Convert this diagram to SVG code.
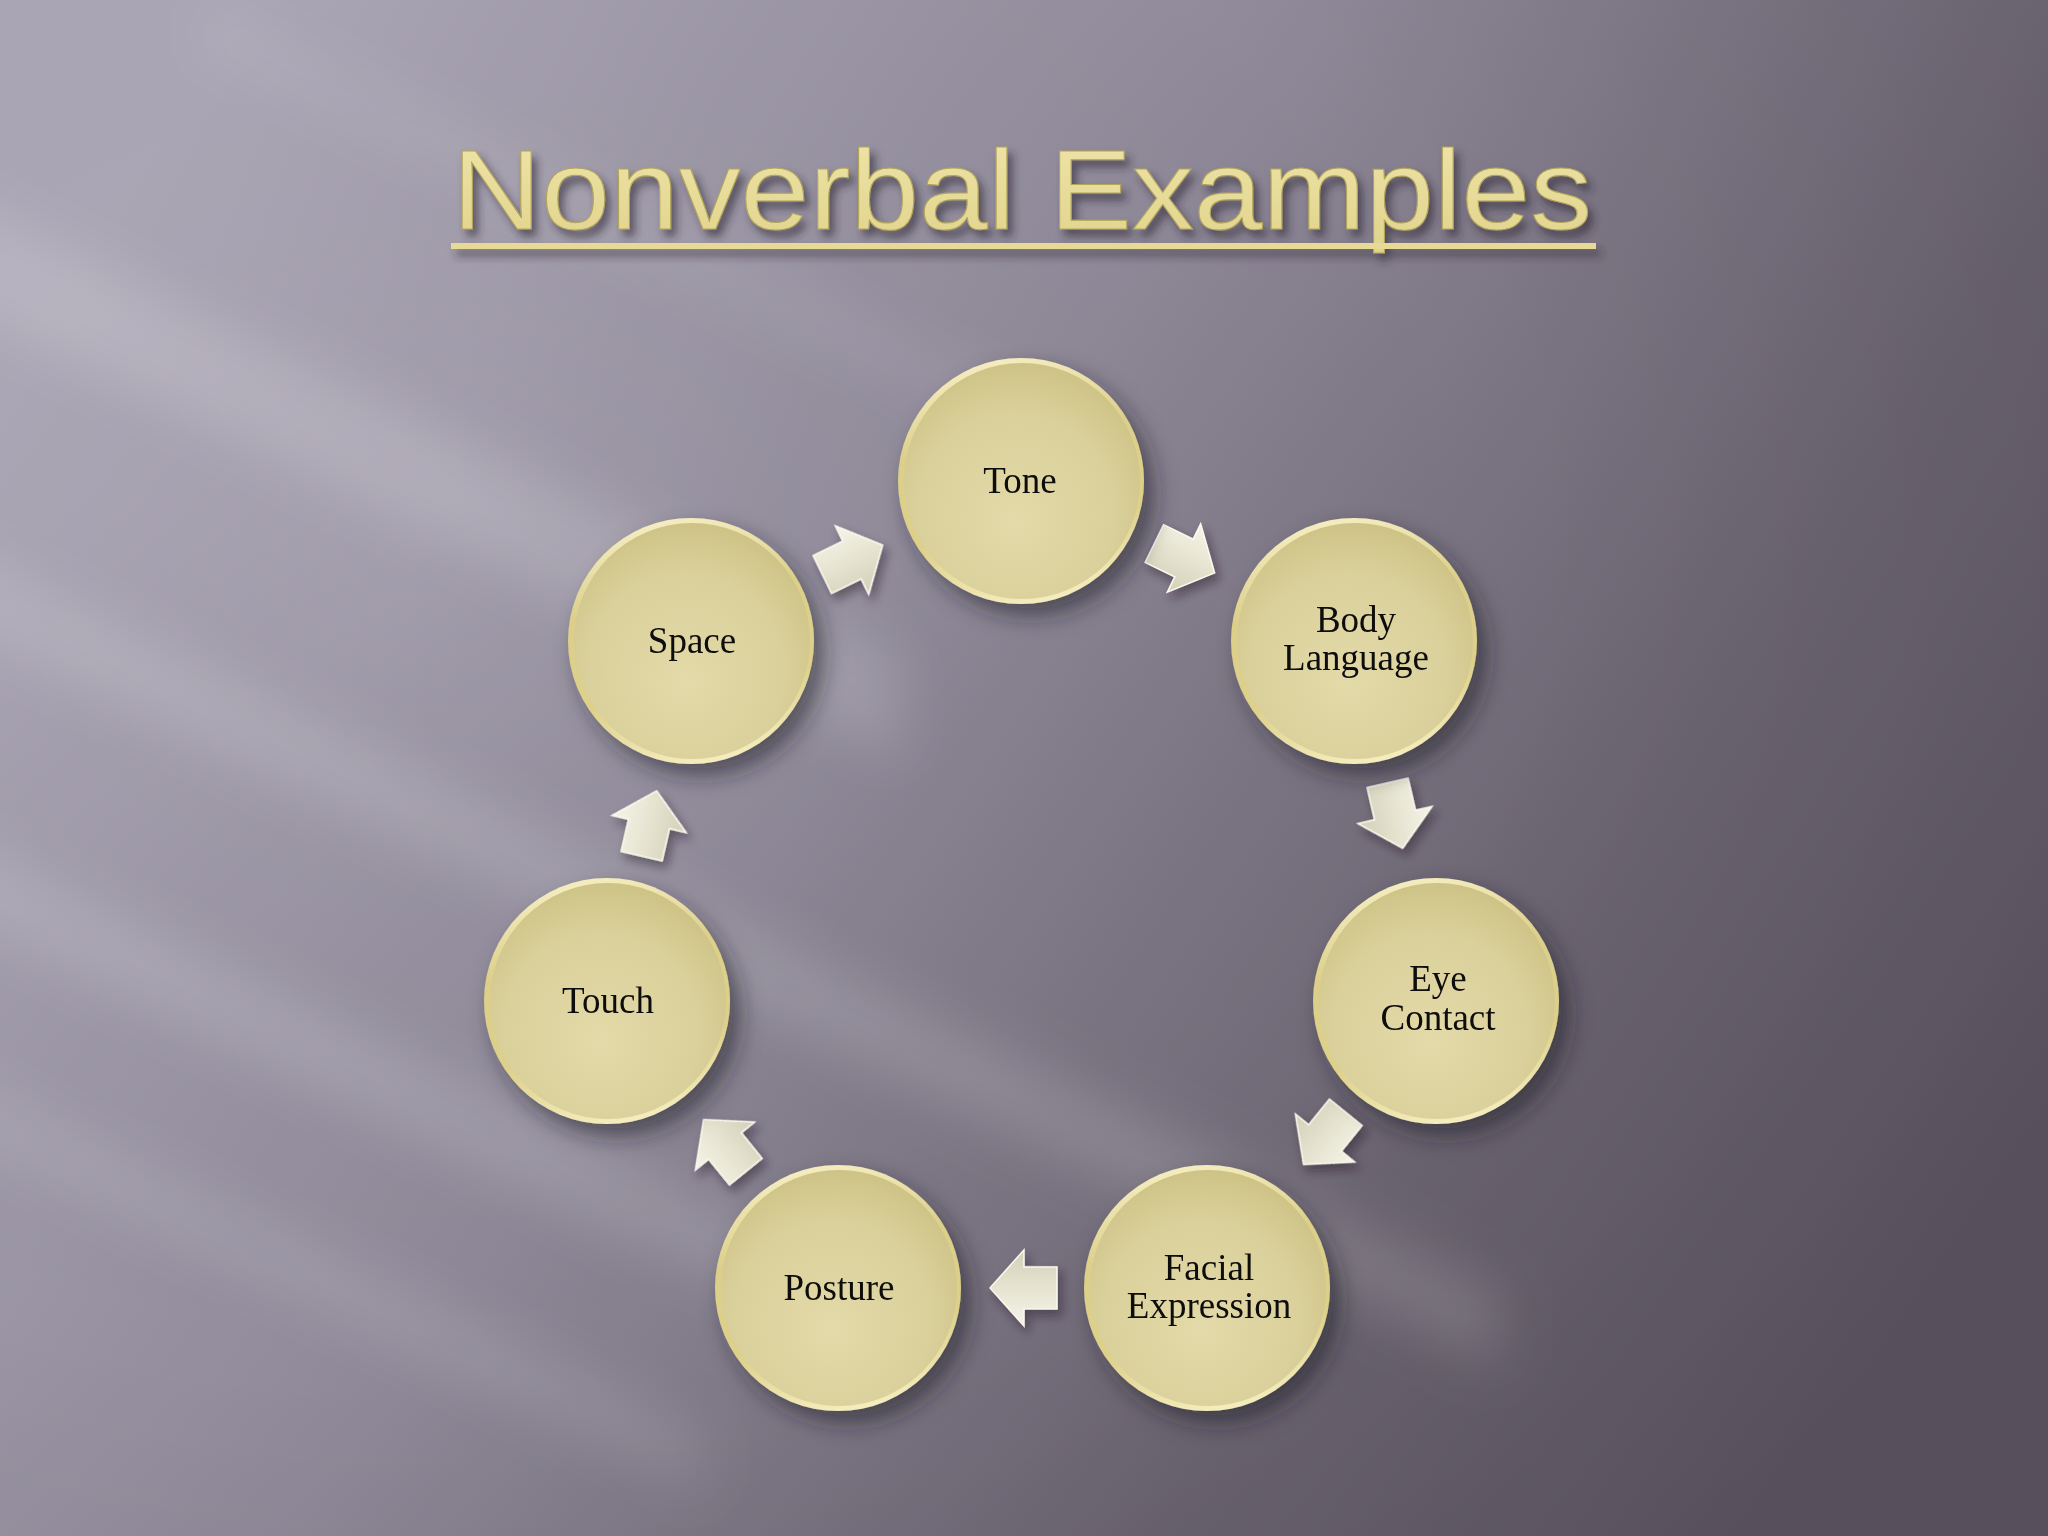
<svg xmlns="http://www.w3.org/2000/svg" width="2048" height="1536" viewBox="0 0 2048 1536">
  <defs>
    <linearGradient id="bg" x1="0" y1="0.25" x2="1" y2="0.75">
      <stop offset="0" stop-color="#aca7b6"/>
      <stop offset="0.4" stop-color="#8f8999"/>
      <stop offset="0.75" stop-color="#6a6370"/>
      <stop offset="1" stop-color="#5c5461"/>
    </linearGradient>
    <radialGradient id="vign" cx="0.2" cy="0.35" r="0.9">
      <stop offset="0" stop-color="#ffffff" stop-opacity="0.06"/>
      <stop offset="0.6" stop-color="#000000" stop-opacity="0"/>
      <stop offset="1" stop-color="#000000" stop-opacity="0.06"/>
    </radialGradient>
    <filter id="blurBig" x="-50%" y="-50%" width="200%" height="200%">
      <feGaussianBlur stdDeviation="26"/>
    </filter>
    <filter id="shadow" x="-30%" y="-30%" width="170%" height="170%">
      <feDropShadow dx="10" dy="12" stdDeviation="11" flood-color="#231d28" flood-opacity="0.55"/>
    </filter>
    <filter id="arrowShadow" x="-40%" y="-40%" width="180%" height="180%">
      <feDropShadow dx="4" dy="6" stdDeviation="5" flood-color="#231d28" flood-opacity="0.45"/>
    </filter>
    <filter id="titleShadow" x="-10%" y="-30%" width="120%" height="170%">
      <feDropShadow dx="5" dy="7" stdDeviation="4" flood-color="#2e2834" flood-opacity="0.6"/>
    </filter>
    <linearGradient id="rim" x1="0.3" y1="0" x2="0.5" y2="1">
      <stop offset="0" stop-color="#f6efc4"/>
      <stop offset="0.35" stop-color="#dccf8a"/>
      <stop offset="0.7" stop-color="#ddd08a"/>
      <stop offset="1" stop-color="#f4ecbc"/>
    </linearGradient>
    <radialGradient id="face" cx="0.47" cy="0.6" r="0.7" fx="0.47" fy="0.68">
      <stop offset="0" stop-color="#e3daa9"/>
      <stop offset="0.6" stop-color="#dad09b"/>
      <stop offset="1" stop-color="#c9bd7c"/>
    </radialGradient>
    <linearGradient id="arrowFill" x1="0" y1="0" x2="0" y2="1">
      <stop offset="0" stop-color="#f5f4e8"/>
      <stop offset="0.5" stop-color="#e6e4d0"/>
      <stop offset="1" stop-color="#d2d0b8"/>
    </linearGradient>
    <linearGradient id="titleFill" x1="0" y1="0" x2="0" y2="1">
      <stop offset="0" stop-color="#efe5a8"/>
      <stop offset="1" stop-color="#e0d38c"/>
    </linearGradient>
    <path id="arrowShape" d="M -33,-21 L 0,-21 L 0,-38 L 34,0 L 0,38 L 0,21 L -33,21 Z"/>
  </defs>
  <style>
    .label { font-family: "Liberation Serif", "Times New Roman", serif; font-size: 37px; fill: #0d0b08; text-anchor: middle; }
    .title { font-family: "Liberation Sans", Arial, sans-serif; font-size: 114px; fill: url(#titleFill); stroke: #b3a55a; stroke-width: 1; }
    .arrow { fill: url(#arrowFill); stroke: #fbfaf0; stroke-width: 1.5; stroke-linejoin: miter; }
  </style>

  <!-- background -->
  <rect x="0" y="0" width="2048" height="1536" fill="url(#bg)"/>
  <g filter="url(#blurBig)" fill="#ffffff">
    <polygon points="-200,120 900,650 900,760 -200,230" opacity="0.15"/>
    <polygon points="-200,470 1500,1290 1500,1370 -200,550" opacity="0.14"/>
    <polygon points="-200,760 900,1290 900,1370 -200,840" opacity="0.14"/>
    <polygon points="-200,1000 700,1430 700,1490 -200,1060" opacity="0.11"/>
    <polygon points="200,0 1100,430 1100,480 200,50" opacity="0.08"/>
  </g>
  <rect x="0" y="0" width="2048" height="1536" fill="url(#vign)"/>

  <!-- title -->
  <g id="title" filter="url(#titleShadow)">
    <text class="title" x="452" y="229" textLength="1140" lengthAdjust="spacingAndGlyphs">Nonverbal Examples</text>
    <rect x="451" y="243" width="1145" height="6" fill="#e6da95"/>
  </g>

  <!-- connectors -->
  <g id="connectors" filter="url(#arrowShadow)">
    <use href="#arrowShape" class="arrow" transform="translate(1184,558) rotate(26)"/>
    <use href="#arrowShape" class="arrow" transform="translate(1395,815) rotate(77)"/>
    <use href="#arrowShape" class="arrow" transform="translate(1325,1138) rotate(129)"/>
    <use href="#arrowShape" class="arrow" transform="translate(1024,1288) rotate(180)"/>
    <use href="#arrowShape" class="arrow" transform="translate(725,1146) rotate(231)"/>
    <use href="#arrowShape" class="arrow" transform="translate(649,824) rotate(283)"/>
    <use href="#arrowShape" class="arrow" transform="translate(852,560) rotate(334)"/>
  </g>

  <!-- nodes -->
  <g id="node-tone" filter="url(#shadow)">
    <circle cx="1021" cy="481" r="123" fill="url(#rim)"/>
    <circle cx="1022" cy="481" r="118" fill="url(#face)"/>
    <text class="label" x="1020" y="493">Tone</text>
  </g>
  <g id="node-body-language" filter="url(#shadow)">
    <circle cx="1354" cy="641" r="123" fill="url(#rim)"/>
    <circle cx="1355" cy="641" r="118" fill="url(#face)"/>
    <text class="label" x="1356" y="632">Body</text>
    <text class="label" x="1356" y="670">Language</text>
  </g>
  <g id="node-eye-contact" filter="url(#shadow)">
    <circle cx="1436" cy="1001" r="123" fill="url(#rim)"/>
    <circle cx="1437" cy="1001" r="118" fill="url(#face)"/>
    <text class="label" x="1438" y="991">Eye</text>
    <text class="label" x="1438" y="1030">Contact</text>
  </g>
  <g id="node-facial-expression" filter="url(#shadow)">
    <circle cx="1207" cy="1288" r="123" fill="url(#rim)"/>
    <circle cx="1208" cy="1288" r="118" fill="url(#face)"/>
    <text class="label" x="1209" y="1280">Facial</text>
    <text class="label" x="1209" y="1318">Expression</text>
  </g>
  <g id="node-posture" filter="url(#shadow)">
    <circle cx="838" cy="1288" r="123" fill="url(#rim)"/>
    <circle cx="839" cy="1288" r="118" fill="url(#face)"/>
    <text class="label" x="839" y="1300">Posture</text>
  </g>
  <g id="node-touch" filter="url(#shadow)">
    <circle cx="607" cy="1001" r="123" fill="url(#rim)"/>
    <circle cx="608" cy="1001" r="118" fill="url(#face)"/>
    <text class="label" x="608" y="1013">Touch</text>
  </g>
  <g id="node-space" filter="url(#shadow)">
    <circle cx="691" cy="641" r="123" fill="url(#rim)"/>
    <circle cx="692" cy="641" r="118" fill="url(#face)"/>
    <text class="label" x="692" y="653">Space</text>
  </g>
</svg>
